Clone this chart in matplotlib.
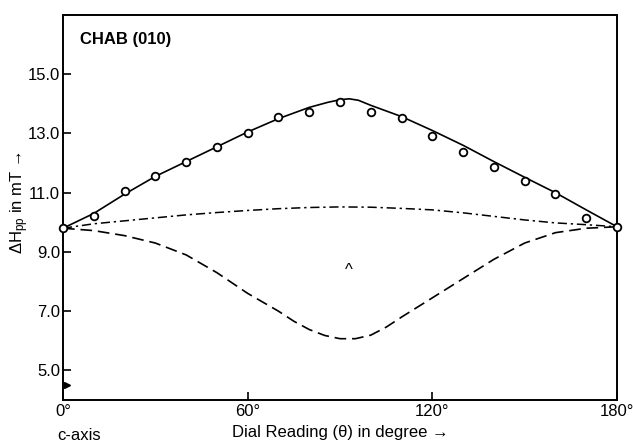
import numpy as np
import matplotlib
matplotlib.use("Agg")
import matplotlib.pyplot as plt

plt.rcParams['font.family'] = ['Liberation Sans', 'DejaVu Sans']
plt.rcParams['mathtext.fontset'] = 'custom'
plt.rcParams['mathtext.rm'] = 'Liberation Sans'
plt.rcParams['mathtext.it'] = 'Liberation Sans:italic'

# measured points (open circles)
theta_pts = [0, 10, 20, 30, 40, 50, 60, 70, 80, 90, 100, 110, 120, 130, 140, 150, 160, 170, 180]
dh_pts = [9.8, 10.22, 11.07, 11.58, 12.05, 12.53, 13.03, 13.54, 13.71, 14.05,
          13.71, 13.51, 12.9, 12.39, 11.88, 11.41, 10.97, 10.15, 9.85]

# solid curve (fit)
theta_solid = [0, 10, 20, 30, 40, 50, 60, 70, 80, 86, 90, 93, 96, 100, 110, 120, 130, 140, 150, 160, 170, 180]
dh_solid = [9.8, 10.3, 10.95, 11.55, 12.05, 12.55, 13.05, 13.5, 13.88, 14.05, 14.14, 14.17, 14.12,
            13.95, 13.57, 13.1, 12.6, 12.05, 11.52, 11.0, 10.42, 9.85]

# dash-dot curve
theta_upper = [0, 10, 20, 30, 40, 50, 60, 70, 80, 90, 100, 110, 120, 130, 140, 150, 160, 170, 180]
dh_upper = [9.8, 9.95, 10.05, 10.15, 10.25, 10.33, 10.4, 10.46, 10.5, 10.52,
            10.51, 10.47, 10.42, 10.32, 10.2, 10.08, 9.98, 9.92, 9.85]

# dashed curve
theta_lower = [0, 10, 20, 30, 40, 50, 60, 70, 75, 80, 85, 90, 95, 100, 105, 110,
               120, 130, 140, 150, 160, 170, 180]
dh_lower = [9.8, 9.72, 9.55, 9.3, 8.9, 8.3, 7.6, 7.0, 6.66, 6.38, 6.18, 6.07, 6.07, 6.19, 6.46, 6.8,
            7.45, 8.1, 8.75, 9.3, 9.65, 9.8, 9.85]

xticks = [0, 60, 120, 180]
xtick_labels = ['0°', '60°', '120°', '180°']
yticks = [5, 7, 9, 11, 13, 15]
ytick_labels = ['5.0', '7.0', '9.0', '11.0', '13.0', '15.0']

fig = plt.figure(figsize=(6.33, 4.43), dpi=100)
ax = fig.add_axes([63/633, 1 - 400/443, (617 - 63)/633, (400 - 15)/443])

ax.plot(theta_solid, dh_solid, color='black', lw=1.2)
ax.plot(theta_upper, dh_upper, color='black', lw=1.1, linestyle=(0, (6, 2.5, 1.5, 2.5)))
ax.plot(theta_lower, dh_lower, color='black', lw=1.2, linestyle=(0, (7, 3.5)))
ax.plot(theta_pts, dh_pts, 'o', mfc='white', mec='black', ms=5.5, mew=1.3, clip_on=False, zorder=5)

# stray marks of the original figure
ax.text(93, 8.36, '^', ha='center', va='center', fontsize=12)
ax.plot([1.2], [4.49], '>', color='black', ms=5, clip_on=False)

ax.set_xlim(0, 180)
ax.set_ylim(4, 17)
ax.set_xticks(xticks)
ax.set_xticklabels(xtick_labels)
ax.set_yticks(yticks)
ax.set_yticklabels(ytick_labels)
ax.tick_params(direction='in', length=6, width=1.2, labelsize=12, pad=3)
ax.tick_params(axis='y', pad=2)
for s in ax.spines.values():
    s.set_linewidth(1.4)

ax.text(0.03, 0.955, 'CHAB (010)', transform=ax.transAxes, fontsize=12,
        fontweight='bold', va='top', ha='left')

fig.text(340/633, 1 - 433/443, 'Dial Reading (θ) in degree →', ha='center', va='center', fontsize=12)
fig.text(57/633, 1 - 435/443, 'c-axis', ha='left', va='center', fontsize=12)
fig.text(20/633, 1 - 203/443, r'ΔH$_\mathrm{pp}$ in mT →', rotation=90,
         ha='center', va='center', fontsize=12)

fig.savefig('out.png', dpi=100)
